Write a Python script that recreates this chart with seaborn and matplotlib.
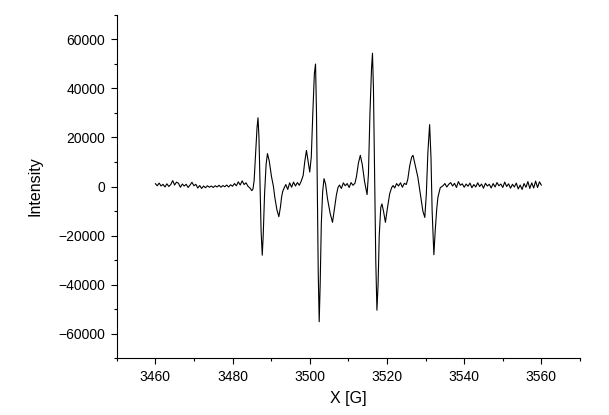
#!/usr/bin/env python3
"""EPR spectrum: intensity vs. magnetic field X [G], four hyperfine lines."""

import matplotlib
matplotlib.use("Agg")
import matplotlib.pyplot as plt
from matplotlib.ticker import MultipleLocator
import numpy as np
import pandas as pd
import seaborn as sns

# --- Data -------------------------------------------------------------
# baseline before first line, 3460..3484.5 G every 0.5 G
base0_y = [1200, 300, 1400, 200, 900, -200, 1100, 0, 800, 2400,
           600, 1800, 1300, -300, 1000, 200, 900, -400, 600, 1700,
           300, 900, -600, 400, -800, 200, -500, 300, -300, 200,
           -400, 300, -200, 500, -300, 400, -100, 600, -200, 700,
           100, 1200, 300, 1900, 600, 2300, 800, 1500, 100, -600]

line1_x = [3485.0, 3485.3, 3485.6, 3486.0, 3486.35, 3486.6, 3486.85, 3487.1,
           3487.4, 3487.7, 3487.95, 3488.3, 3488.7, 3489.05, 3489.5, 3490.1,
           3490.6, 3490.95, 3491.5, 3492.0, 3492.4, 3492.7, 3493.0, 3493.4]
line1_y = [-1700, -1000, 2500, 14000, 24000, 28000, 20000, 2000,
           -18000, -28000, -20000, -3000, 9000, 13400, 10500, 4000,
           0, -4400, -9500, -12300, -8500, -4400, -2000, -500]

# 3493.8..3497.8 G
base1_y = [800, -1200, 1500, -300, 1800, 200, 1600, 500, 2200]

line2_x = [3498.3, 3498.7, 3499.15, 3499.5, 3500.0, 3500.4, 3500.8, 3501.2,
           3501.5, 3501.75, 3502.0, 3502.2, 3502.45, 3502.7, 3503.0, 3503.35,
           3503.7, 3504.1, 3504.6, 3505.3, 3505.9, 3506.4, 3506.9, 3507.3]
line2_y = [4500, 10000, 14700, 11000, 5900, 12000, 30000, 46000,
           49900, 30000, -5000, -35000, -55100, -40000, -15000, -2000,
           3200, 1000, -5000, -11000, -14600, -9000, -3500, -500]

# 3507.7..3511.7 G
base2_y = [600, -800, 1500, 300, 1200, -400, 1600, 500, 1300]

line3_x = [3512.1, 3512.6, 3513.1, 3513.6, 3514.2, 3514.85, 3515.2, 3515.6,
           3516.0, 3516.25, 3516.5, 3516.8, 3517.1, 3517.4, 3517.7, 3518.0,
           3518.4, 3518.7, 3519.1, 3519.6, 3520.1, 3520.7, 3521.2, 3521.6]
line3_y = [4000, 9500, 12700, 9000, 2000, -3300, 5000, 30000,
           48000, 54300, 40000, 5000, -30000, -50400, -40000, -20000,
           -8500, -7100, -10000, -14600, -9000, -3000, -500, 400]

# 3522.0..3525.0 G
base3_y = [-600, 1200, 200, 1500, -300, 1300, 800]

line4_x = [3525.4, 3525.9, 3526.4, 3526.75, 3527.2, 3528.0, 3528.7, 3529.3,
           3529.8, 3530.2, 3530.6, 3531.05, 3531.4, 3531.7, 3532.15, 3532.5,
           3532.9, 3533.2, 3533.8]
line4_y = [3000, 8500, 12000, 12700, 9500, 3800, -3500, -10000,
           -12600, -3000, 14000, 25200, 12000, -10000, -27800, -18000,
           -9000, -4400, -500]

# 3534.5..3560 G
base4_y = [300, 1200, -200, 900, 1600, 200, 1300, -400, 2000, 500,
           1100, -300, 1000, 100, 1400, -500, 800, -200, 1500, 0,
           1000, -700, 1300, 200, 900, -600, 1200, -200, 1600, 300,
           1000, -400, 1800, 0, 1100, -700, 900, -200, 1400, -1000,
           600, -1200, 1200, -300, 2000, -800, 1500, -600, 2200, -400,
           1900, 500]

x_ticks = [3460, 3480, 3500, 3520, 3540, 3560]
y_ticks = [-60000, -40000, -20000, 0, 20000, 40000, 60000]


def sweep(start, values, step=0.5):
    return list(start + step * np.arange(len(values)))


field = (sweep(3460.0, base0_y) + line1_x + sweep(3493.8, base1_y) + line2_x
         + sweep(3507.7, base2_y) + line3_x + sweep(3522.0, base3_y) + line4_x
         + sweep(3534.5, base4_y))
intensity = (base0_y + line1_y + base1_y + line2_y + base2_y + line3_y
             + base3_y + line4_y + base4_y)
df = pd.DataFrame({"field": field, "intensity": intensity})

# --- Plot --------------------------------------------------------------
sns.set_theme(style="ticks")
plt.rcParams["font.family"] = ["Liberation Sans", "DejaVu Sans"]

fig = plt.figure(figsize=(6.09, 4.15), dpi=100)
ax = fig.add_axes([0.1916, 0.1366, 0.7608, 0.828])

sns.lineplot(data=df, x="field", y="intensity", sort=False, estimator=None,
             color="black", lw=0.8, ax=ax)

ax.set_xlim(3450, 3570)
ax.set_ylim(-70000, 70000)
ax.set_xticks(x_ticks)
ax.set_yticks(y_ticks)
ax.xaxis.set_minor_locator(MultipleLocator(10))
ax.yaxis.set_minor_locator(MultipleLocator(10000))
ax.tick_params(which="major", length=4.5, width=0.8, colors="black",
               labelsize=10, pad=4)
ax.tick_params(which="minor", length=2.5, width=0.8, colors="black")

ax.set_xlabel("X [G]", fontsize=11.5, color="black")
ax.set_ylabel("Intensity", fontsize=11.5, color="black")
ax.xaxis.set_label_coords(0.5, -0.095)
ax.yaxis.set_label_coords(-0.16, 0.5)

sns.despine(ax=ax)
for side in ("left", "bottom"):
    ax.spines[side].set_linewidth(0.8)
    ax.spines[side].set_color("black")

fig.savefig("out.png", dpi=100)
plt.close(fig)
